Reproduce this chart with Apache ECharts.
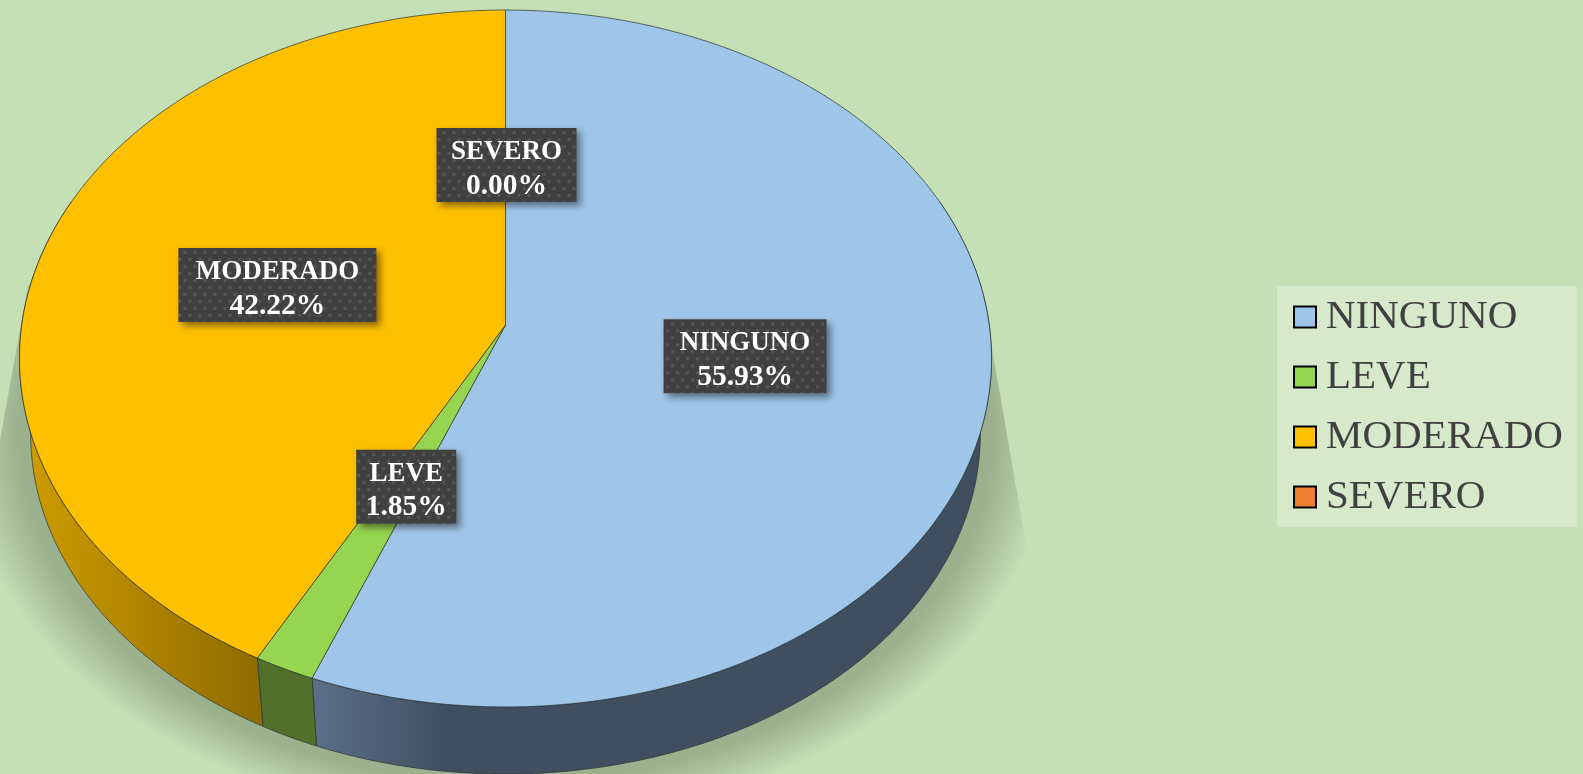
<!DOCTYPE html>
<html>
<head>
<meta charset="utf-8">
<style>html,body{margin:0;padding:0;background:#C5E0B4}#c{width:1583px;height:774px}</style>
<script src="https://cdn.jsdelivr.net/npm/echarts@6/dist/echarts.min.js"></script>
</head>
<body>
<div id="c"></div>
<script>
const categories = ['NINGUNO', 'LEVE', 'MODERADO', 'SEVERO'];
const percentages = [55.93, 1.85, 42.22, 0.00];
const topColors = ['#9FC5E8', '#96D550', '#FFC000', '#ED7D31'];
const sideStops = [
  [[0, '#5C6F8A'], [0.2, '#3F4F60'], [1, '#3F4F60']],
  [[0, '#507029'], [1, '#507029']],
  [[0, '#D09D00'], [1, '#8E6B00']],
  [[0, '#8E4A1C'], [1, '#8E4A1C']]
];

// Perspective projection of the pie disc on the page
const P = { cx: 505.5, a: 483.75, b: 314, c: 325, k: 0.0961, midY: 358.5, depth: 75.5, sx: 0.977, sy: 0.976 };
function project(theta, f) {
  const u = Math.sin(theta) * f, v = -Math.cos(theta) * f;
  const d = 1 - P.k * v;
  return [P.cx + P.a * u / d, (P.b * v + P.c) / d];
}
function lower(p) {
  return [P.cx + (p[0] - P.cx) * P.sx, P.midY + (p[1] - P.midY) * P.sy + P.depth];
}
function toAngle(pct) { return pct / 100 * Math.PI * 2; }
function arc(t0, t1) {
  const n = Math.max(2, Math.ceil(Math.abs(t1 - t0) / 0.01)), pts = [];
  for (let i = 0; i <= n; i++) pts.push(project(t0 + (t1 - t0) * i / n, 1));
  return pts;
}

// dotted pattern of the data labels
const tile = document.createElement('canvas');
tile.width = 10; tile.height = 14;
(function () {
  const g = tile.getContext('2d');
  g.fillStyle = '#404040'; g.fillRect(0, 0, 10, 14);
  g.fillStyle = '#555555'; g.fillRect(1, 1, 3, 3); g.fillRect(6, 8, 3, 3);
})();

let running = 0;
const spans = percentages.map(function (p) { const s = [running, running + p, p]; running += p; return s; });

const EDGE = 'rgba(40,50,50,0.7)';
function sliceItem(i) {
  return function (params, api) {
    const t0 = toAngle(api.value(0)), t1 = toAngle(api.value(1));
    if (t1 - t0 < 1e-6) return { type: 'group', children: [] };
    const children = [];
    const s0 = Math.max(t0, toAngle(19)), s1 = Math.min(t1, toAngle(81));
    if (s1 > s0) {
      const up = arc(s0, s1), down = up.map(lower).reverse();
      const xs = up.concat(down).map(function (p) { return p[0]; });
      const x0 = Math.min.apply(null, xs), x1 = Math.max.apply(null, xs);
      children.push({
        type: 'polygon', z2: 1,
        shape: { points: up.concat(down) },
        style: {
          fill: { type: 'linear', x: x0, y: 0, x2: x1, y2: 0, global: true,
            colorStops: sideStops[i].map(function (c) { return { offset: c[0], color: c[1] }; }) },
          stroke: EDGE, lineWidth: 1
        }
      });
    }
    const top = arc(t0, t1);
    top.push(project(0, 0));
    children.push({
      type: 'polygon', z2: 2,
      shape: { points: top },
      style: { fill: topColors[i], stroke: EDGE, lineWidth: 1 }
    });
    return { type: 'group', children: children };
  };
}

const labelWidths = [163, 100, 198, 140];
const labelNudge = [[7, 0], [3, 3], [-3, 0], [1, 0]];
function labelItem(params, api) {
  const mid = toAngle((api.value(0) + api.value(1)) / 2);
  const i = params.dataIndex;
  const at = project(mid, 0.485);
  const text = '{n|' + categories[i] + '}\n{v|' + api.value(2).toFixed(2) + '%}';
  const w = labelWidths[i], h = 74;
  return {
    type: 'group', x: at[0] + labelNudge[i][0], y: at[1] + labelNudge[i][1],
    children: [
      { type: 'rect', z2: 10,
        shape: { x: -w / 2, y: -h / 2, width: w, height: h },
        style: { fill: { image: tile, repeat: 'repeat' }, shadowBlur: 7, shadowOffsetX: 4, shadowOffsetY: 4, shadowColor: 'rgba(0,0,0,0.45)' } },
      { type: 'text', z2: 11,
        style: { x: 0, y: 4, text: text, align: 'center', verticalAlign: 'middle',
          rich: {
            n: { fill: '#FFFFFF', font: 'bold 27px "Liberation Serif"', lineHeight: 34, align: 'center' },
            v: { fill: '#FFFFFF', font: 'bold 29.5px "Liberation Serif"', lineHeight: 34, align: 'center' }
          } } }
    ]
  };
}

function shadowItem() {
  // Elliptical soft shadow under the pie: gradient drawn in a scaled group
  const rx = 475, ry = 340, cy = 434, sc = ry / rx;
  const page = [[981, 285], [1027, 550], [1045, 774], [0, 774], [0, 440], [28, 285]];
  const pts = page.map(function (p) { return [p[0], cy + (p[1] - cy) / sc]; });
  return {
    type: 'polygon', originX: P.cx, originY: cy, scaleY: sc,
    shape: { points: pts },
    style: {
      fill: { type: 'radial', x: P.cx, y: cy, r: rx * 1.15, global: true,
        colorStops: [
          { offset: 0, color: 'rgba(0,0,0,0.21)' },
          { offset: 0.89, color: 'rgba(0,0,0,0.21)' },
          { offset: 0.94, color: 'rgba(0,0,0,0.12)' },
          { offset: 1, color: 'rgba(0,0,0,0)' }
        ] }
    }
  };
}

const series = [{
  type: 'custom', name: 'shadow', coordinateSystem: 'none', silent: true, z: 1,
  data: [[0]], renderItem: shadowItem, animation: false
}];
categories.forEach(function (name, i) {
  series.push({
    type: 'custom', name: name, coordinateSystem: 'none', z: 2, silent: true, animation: false,
    itemStyle: { color: topColors[i] },
    data: [{ name: name, value: spans[i] }],
    renderItem: sliceItem(i)
  });
});
series.push({
  type: 'custom', name: 'labels', coordinateSystem: 'none', z: 5, silent: true, animation: false,
  data: spans, renderItem: labelItem
});

const chart = echarts.init(document.getElementById('c'), null, { renderer: 'canvas' });
chart.setOption({
  backgroundColor: '#C5E0B4',
  animation: false,
  legend: {
    data: categories,
    orient: 'vertical', left: 1277, top: 286,
    padding: [5, 14, 4, 16], backgroundColor: 'rgba(255,255,255,0.3)',
    itemWidth: 22, itemHeight: 21, itemGap: 8,
    icon: 'rect',
    itemStyle: { borderColor: '#000000', borderWidth: 2 },
    textStyle: { fontFamily: 'Liberation Serif', fontSize: 41, color: '#404040', lineHeight: 40, padding: [12, 0, 0, 5] },
    selectedMode: false
  },
  series: series
});
</script>
</body>
</html>
